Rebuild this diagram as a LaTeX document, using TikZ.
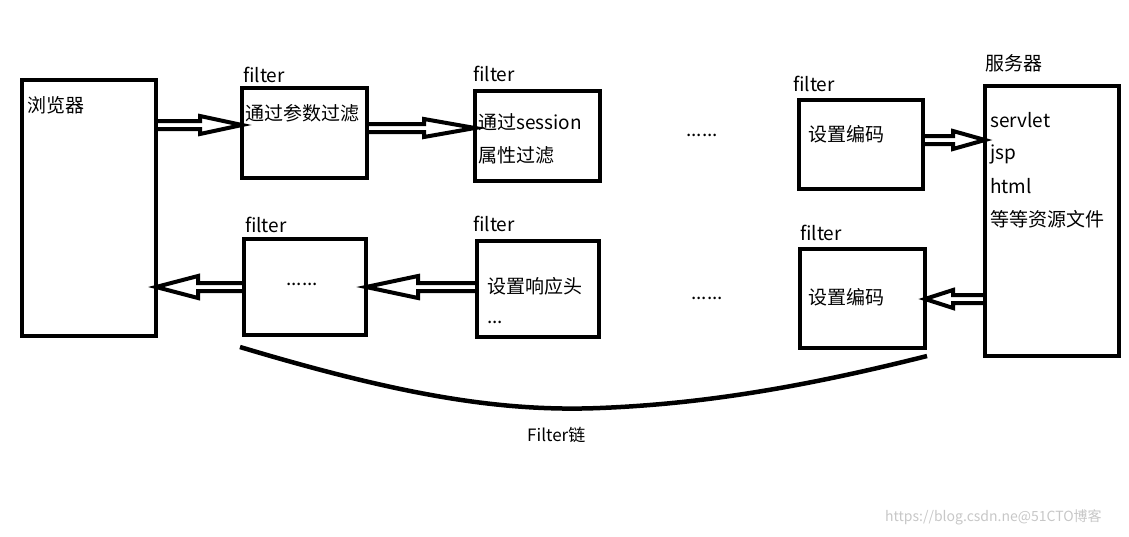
\documentclass[tikz,border=0pt]{standalone}
\usepackage{fontspec}
\setmainfont{Noto Sans CJK SC}
\usetikzlibrary{calc}
\tikzset{
  box/.style={draw, line width=4.5pt, inner sep=0pt, outer sep=0pt, anchor=north west},
  lbl/.style={anchor=west, inner sep=0pt, font=\fontsize{19}{21}\selectfont},
  fat/.style={line width=4pt, line join=miter},
  chain/.style={line width=4.5pt},
}
% #1 start, #2 tip, #3 direction (1 right, -1 left), #4 head length, #5 head half height
\newcommand{\fatarrow}[5]{%
  \draw[fat] let \p1=(#1), \p2=(#2) in
    (\x1,\y1+4) -- ({\x2-(#3)*#4},\y1+4) -- ({\x2-(#3)*#4},\y1+#5) -- (\x2,\y1)
    -- ({\x2-(#3)*#4},\y1-#5) -- ({\x2-(#3)*#4},\y1-4) -- (\x1,\y1-4);}
\begin{document}
\begin{tikzpicture}[x=1pt,y=1pt]
\useasboundingbox (0,0) rectangle (1129,-536);
% boxes
\node[box, minimum width=134, minimum height=256] (br) at (22,-80) {};
\node[box, minimum width=125, minimum height=90] (f1) at (242,-88) {};
\node[box, minimum width=125, minimum height=90] (f2) at (475,-91) {};
\node[box, minimum width=124, minimum height=89] (f3) at (799,-100) {};
\node[box, minimum width=134, minimum height=270] (sv) at (985,-86) {};
\node[box, minimum width=122, minimum height=96] (b1) at (244,-239) {};
\node[box, minimum width=122, minimum height=96] (b2) at (477,-241) {};
\node[box, minimum width=125, minimum height=99] (b3) at (800,-249) {};
% labels
\node[lbl] (tbr) at (27,-105) {浏览器};
\node[lbl] (lf1) at (243,-75) {filter};
\node[lbl] (lf2) at (473,-74) {filter};
\node[lbl] (lf3) at (793,-84) {filter};
\node[lbl] (lsv) at (985,-63) {服务器};
\node[lbl] (lb1) at (245,-225) {filter};
\node[lbl] (lb2) at (473,-224) {filter};
\node[lbl] (lb3) at (800,-233) {filter};
\node[lbl] (t1) at (245,-113) {通过参数过滤};
\node[lbl] (t2a) at (478,-122) {通过session};
\node[lbl] (t2b) at (478,-155) {属性过滤};
\node[lbl] (d1) at (686,-135) {......};
\node[lbl] (t3) at (808,-134) {设置编码};
\node[lbl] (s1) at (990,-120) {servlet};
\node[lbl] (s2) at (990,-154) {jsp};
\node[lbl] (s3) at (990,-186) {html};
\node[lbl] (s4) at (990,-219) {等等资源文件};
\node[lbl] (d2) at (286,-284) {......};
\node[lbl] (u2a) at (487,-286) {设置响应头};
\node[lbl] (u2b) at (487,-322) {...};
\node[lbl] (d3) at (691,-298) {......};
\node[lbl] (u3) at (808,-297) {设置编码};
\node[lbl, font=\fontsize{17}{19}\selectfont] (fc) at (527,-435) {Filter链};
\node[lbl, font=\fontsize{14}{16}\selectfont, text=black!22] (wm) at (885,-517) {https://blog.csdn.ne@51CTO博客};
% arrows
\fatarrow{br.east |- 0,-125}{f1.west |- 0,-125}{1}{42}{9}
\fatarrow{f1.east |- 0,-128}{f2.west |- 0,-128}{1}{51}{9}
\fatarrow{f3.east |- 0,-140}{sv.west |- 0,-140}{1}{32}{9}
\fatarrow{sv.west |- 0,-299}{b3.east |- 0,-299}{-1}{28}{9}
\fatarrow{b2.west |- 0,-287}{b1.east |- 0,-287}{-1}{52}{11}
\fatarrow{b1.west |- 0,-287}{br.east |- 0,-287}{-1}{42}{11}
% chain curve
\coordinate (cs) at (240,-347);
\coordinate (ce) at (927,-356);
\draw[chain] (cs) .. controls (400,-395) and (500,-412) .. (600,-408)
  .. controls (700,-404) and (800,-388) .. (ce);
\end{tikzpicture}
\end{document}
